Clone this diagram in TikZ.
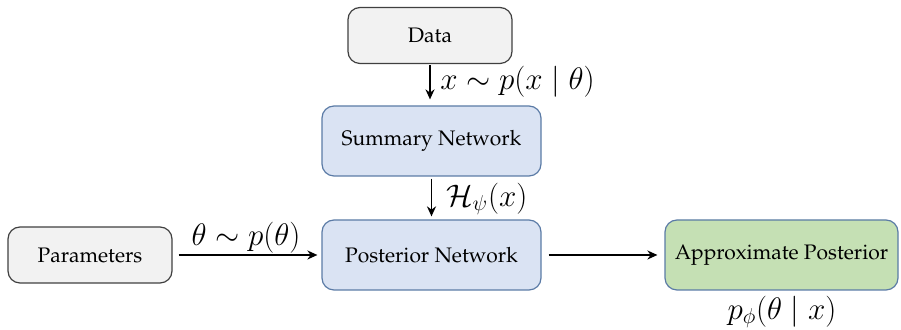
\documentclass[tikz,border=0pt]{standalone}
\usepackage[T1]{fontenc}
\renewcommand{\rmdefault}{ppl}
\usepackage{amsmath}
\usetikzlibrary{arrows.meta}
\definecolor{grayfill}{HTML}{F2F2F2}
\definecolor{grayline}{HTML}{404040}
\definecolor{bluefill}{HTML}{DAE3F3}
\definecolor{blueline}{HTML}{5B7BA6}
\definecolor{greenfill}{HTML}{C5E0B4}
\begin{document}
\begin{tikzpicture}[x=0.5pt,y=-0.5pt,
  box/.style={draw, rounded corners=6pt, line width=0.6pt, inner sep=0pt, font=\fontsize{10.5}{12}\selectfont},
  graybox/.style={box, fill=grayfill, draw=grayline, minimum width=82pt, minimum height=28pt},
  bluebox/.style={box, fill=bluefill, draw=blueline, minimum width=109.5pt, minimum height=35pt},
  greenbox/.style={box, fill=greenfill, draw=blueline, minimum width=116.5pt, minimum height=35pt},
  conn/.style={-{Stealth[length=5pt,width=4.5pt]}, line width=0.9pt},
  lbl/.style={font=\fontsize{17.28}{20}\selectfont, inner sep=0pt, scale=0.9}]
\useasboundingbox (0,0) rectangle (901,330);
\node[graybox] (data) at (430,35.5) {Data};
\node[bluebox] (summary) at (431.5,141) {Summary Network};
\node[bluebox] (posterior) at (431.5,255) {Posterior Network};
\node[graybox] (params) at (90,255) {Parameters};
\node[greenbox] (approx) at (781.5,255) {Approximate Posterior};
\draw[conn] (data.south -| 430,0) ++(0,1) -- ([yshift=3pt]summary.north -| 430,0);
\draw[conn] ([yshift=-1pt]summary.south) -- ([yshift=1.5pt]posterior.north);
\draw[conn] ([xshift=3pt]params.east) -- ([xshift=-2pt]posterior.west);
\draw[conn] ([xshift=3.5pt]posterior.east) -- ([xshift=-3.5pt]approx.west);
\node[lbl, anchor=west] (l1) at (440,82) {$x \sim p(x \mid \theta)$};
\node[lbl, anchor=west] (l2) at (446,199) {$\mathcal{H}_{\psi}(x)$};
\node[lbl] (l3) at (246,238) {$\theta \sim p(\theta)$};
\node[lbl] (l4) at (782,312) {$p_{\phi}(\theta \mid x)$};
\end{tikzpicture}
\end{document}
